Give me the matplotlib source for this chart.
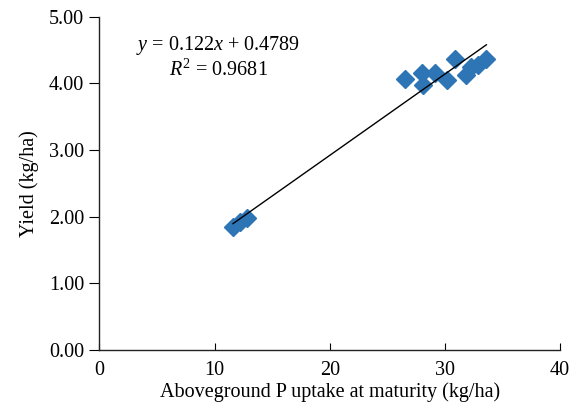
import numpy as np
import matplotlib
matplotlib.use("Agg")
import matplotlib.pyplot as plt

# data
uptake = [11.6, 12.2, 12.8, 26.5, 28.0, 28.1, 29.1, 30.2, 30.9, 31.8, 32.3, 32.9, 33.6]
yield_ = [1.84, 1.92, 1.98, 4.07, 4.15, 3.97, 4.15, 4.05, 4.37, 4.12, 4.25, 4.27, 4.37]
slope = 0.122
intercept = 0.4789
r2 = 0.9681

plt.rcParams['font.family'] = ['Liberation Serif', 'DejaVu Serif']
plt.rcParams['mathtext.fontset'] = 'custom'
plt.rcParams['mathtext.rm'] = 'Liberation Serif'
plt.rcParams['mathtext.it'] = 'Liberation Serif:italic'

fs = 14.5

fig = plt.figure(figsize=(5.78, 4.17), dpi=100)
ax = fig.add_axes([0.172, 0.161, 0.797, 0.799])

ax.plot(uptake, yield_, linestyle='none', marker='D', markersize=9.5,
        color='#2E75B6', zorder=2)

xl = np.array([min(uptake), max(uptake)])
ax.plot(xl, slope * xl + intercept, color='black', linewidth=1.0, zorder=3)

ax.text(10.3, 4.57, r'$y$ = %.3f$x$ + %.4f' % (slope, intercept),
        ha='center', va='center', fontsize=fs)
ax.text(10.3, 4.2, r'$R^2$ = %.4f' % r2, ha='center', va='center', fontsize=fs)

ax.set_xlim(0, 40)
ax.set_ylim(0, 5)
ax.set_xticks([0, 10, 20, 30, 40])
ax.set_yticks([0, 1, 2, 3, 4, 5])
ax.set_yticklabels(['%.2f' % v for v in ax.get_yticks()])

for s in ['top', 'right']:
    ax.spines[s].set_visible(False)
for s in ['left', 'bottom']:
    ax.spines[s].set_linewidth(1.0)
    ax.spines[s].set_color('#222222')

ax.tick_params(axis='x', direction='in', length=5, labelsize=fs, pad=8)
ax.tick_params(axis='y', direction='out', length=7, labelsize=fs, pad=4)

ax.set_xlabel('Aboveground P uptake at maturity (kg/ha)', fontsize=fs, labelpad=2)
ax.set_ylabel('Yield (kg/ha)', fontsize=fs, labelpad=7)

fig.savefig('out.png', dpi=100)
